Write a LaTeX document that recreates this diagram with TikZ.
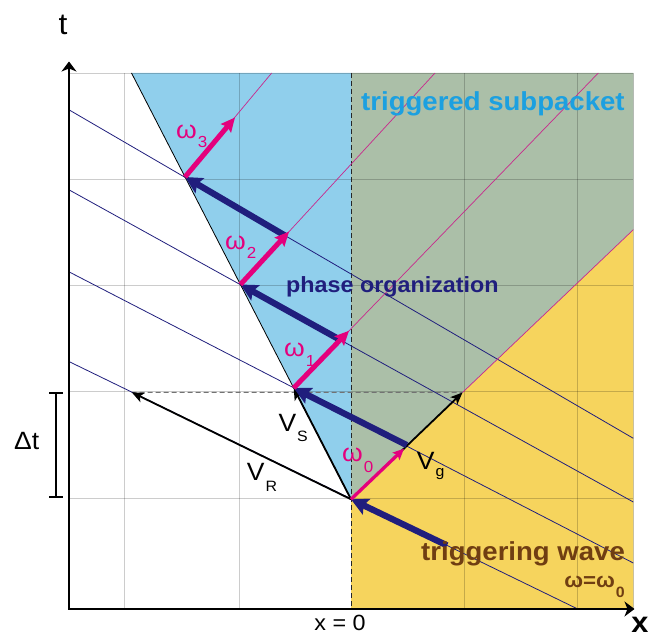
\documentclass[tikz,border=0pt]{standalone}
\usepackage{fontspec}
\setmainfont{Liberation Sans}
\usetikzlibrary{arrows.meta}
\definecolor{cBlue}{RGB}{144,207,236}
\definecolor{cGreen}{RGB}{171,191,168}
\definecolor{cYellow}{RGB}{246,212,93}
\definecolor{cNavy}{RGB}{32,30,125}
\definecolor{cMag}{RGB}{228,0,125}
\definecolor{cMagThin}{RGB}{200,40,140}
\definecolor{cBrown}{RGB}{112,62,18}
\definecolor{cCyan}{RGB}{28,160,224}
\newcommand\fs[1]{\fontsize{#1}{#1}\selectfont}
\newcommand\hsub[3]{{\kern1pt\fs{#1}\raisebox{-#2pt}{#3}}}
\begin{document}
\begin{tikzpicture}[x=1pt,y=-1pt,
  gridline/.style={draw=black,draw opacity=0.2,line width=0.8pt},
  phase/.style={draw=cNavy,line width=0.8pt},
  mthin/.style={draw=cMagThin,line width=0.7pt},
  navyarrow/.style={draw=cNavy,line width=6.3pt,-{Stealth[length=17pt,width=17pt,inset=3pt]}},
  magarrow/.style={draw=cMag,line width=5pt,-{Stealth[length=14pt,width=13pt,inset=2pt]}},
  blackarrow/.style={draw=black,line width=1.8pt,-{Stealth[length=12pt,width=10pt,inset=3pt]}},
  lbl/.style={inner sep=0pt,anchor=base west,xscale=1.06}]
\useasboundingbox (0,0) rectangle (654,636);
% key points
\coordinate (O) at (69,609);
\coordinate (Ytip) at (69,61.5);
\coordinate (Xtip) at (634.5,609);
\coordinate (P0) at (351,499.3);
\coordinate (P1) at (293.7,388);
\coordinate (P2) at (240.4,284.5);
\coordinate (P3) at (185,177);
\coordinate (VsTop) at (131.5,73);
\coordinate (GTip) at (462.5,392.5);
\coordinate (GEnd) at (633.3,229.7);
\coordinate (RTip) at (131.7,392.3);
\coordinate (M1top) at (598.3,73);
\coordinate (M2top) at (435,73);
\coordinate (M3top) at (271.7,73);
\coordinate (A1) at (69.3,110);   \coordinate (A2) at (633.3,438.3);
\coordinate (B1) at (69.3,190);   \coordinate (B2) at (633.3,502);
\coordinate (C1) at (69.3,272);   \coordinate (C2) at (633.3,563);
\coordinate (D1) at (69.3,361.7); \coordinate (D2) at (576.7,608.5);
\coordinate (N0) at (447,545.4);
\coordinate (N1) at (406.7,445.1);
\coordinate (N2) at (340.2,339.9);
\coordinate (N3) at (285.2,235.7);
\coordinate (W0) at (404,448.7);
\coordinate (W1) at (349,330.8);
\coordinate (W2) at (289,231.7);
\coordinate (W3) at (235,117.5);
% fills
\fill[cYellow] (351,609) -- (P0) -- (GEnd) -- (633.3,609) -- cycle;
\fill[cGreen] (P0) -- (GEnd) -- (633.3,73) -- (351,73) -- cycle;
\fill[cBlue] (P0) -- (VsTop) -- (351,73) -- cycle;
% grid
\foreach \gx in {124.3,239,464.3,577.7} \draw[gridline] (\gx,73) -- (\gx,609);
\foreach \gy in {179.3,285,391.5,498} \draw[gridline] (69,\gy) -- (633.3,\gy);
\draw[gridline] (69,73) rectangle (633.3,609);
% dashed guides
\draw[black!85,line width=0.8pt,dash pattern=on 5pt off 3pt] (351,73) -- (351,609);
\draw[black!55,line width=1pt,dash pattern=on 5pt off 3pt] (RTip) -- (GTip);
% phase lines
\draw[phase] (A1) -- (A2);
\draw[phase] (B1) -- (B2);
\draw[phase] (C1) -- (C2);
\draw[phase] (D1) -- (D2);
% group lines
\draw[mthin] (P3) -- (M3top);
\draw[mthin] (P2) -- (M2top);
\draw[mthin] (P1) -- (M1top);
\draw[mthin] (GTip) -- (GEnd);
\draw[black,line width=0.8pt] (P0) -- (VsTop);
% black velocity arrows
\draw[blackarrow] (P0) -- (RTip);
\draw[blackarrow] (P0) -- (P1);
\draw[blackarrow] (P0) -- (GTip);
% navy arrows
\draw[navyarrow] (N0) -- (P0);
\draw[navyarrow] (N1) -- (P1);
\draw[navyarrow] (N2) -- (P2);
\draw[navyarrow] (N3) -- (P3);
% magenta arrows
\draw[magarrow,line width=3.3pt,-{Stealth[length=11pt,width=10pt,inset=2pt]}] (P0) -- (W0);
\draw[magarrow] (P1) -- (W1);
\draw[magarrow] (P2) -- (W2);
\draw[magarrow] (P3) -- (W3);
% bracket
\coordinate (DtT) at (56,392.7);
\coordinate (DtB) at (56,497.3);
\draw[line width=1.8pt] ([xshift=-7pt]DtT) -- ([xshift=7pt]DtT) (DtT) -- (DtB) ([xshift=-7pt]DtB) -- ([xshift=7pt]DtB);
% axes
\draw[line width=2pt,line join=miter,{Stealth[length=10pt,width=15pt,inset=3pt]}-{Stealth[length=10pt,width=15pt,inset=3pt]}] (Ytip) -- (O) -- (Xtip);
% labels
\node[lbl,text=cCyan,font=\fs{26}\bfseries] (lblSub) at (361,111) {triggered subpacket};
\node[lbl,text=cNavy,font=\fs{22}\bfseries] (lblPhase) at (286,293) {phase organization};
\node[lbl,text=cBrown,font=\fs{26}\bfseries] (lblTrig) at (421,560) {triggering wave};
\node[lbl,anchor=base east,text=cBrown,font=\fs{21}\bfseries] (lblOm) at (625,587) {ω=ω\hsub{15}{10}{0}};
\node[lbl,text=cMag,font=\fs{25}] (lblW3) at (176,138.3) {ω\hsub{16}{9}{3}};
\node[lbl,text=cMag,font=\fs{25}] (lblW2) at (225,250) {ω\hsub{16}{9}{2}};
\node[lbl,text=cMag,font=\fs{25}] (lblW1) at (284,356.7) {ω\hsub{16}{10}{1}};
\node[lbl,text=cMag,font=\fs{25}] (lblW0) at (342,461.7) {ω\hsub{16}{11}{0}};
\node[lbl,font=\fs{25}] (lblVs) at (278.3,431.7) {V\hsub{15}{10}{S}};
\node[lbl,font=\fs{25}] (lblVR) at (246.7,480.7) {V\hsub{15}{11}{R}};
\node[lbl,font=\fs{25}] (lblVg) at (416.7,470) {V\hsub{15}{7}{g}};
\node[lbl,font=\fs{25}] (lblDt) at (14,449.5) {Δt};
\node[inner sep=0pt,anchor=base,xscale=1.06,font=\fs{30}] (lblT) at (63,35) {t};
\node[inner sep=0pt,anchor=base,xscale=1.06,font=\fs{29}\bfseries] (lblX) at (640,632) {x};
\node[inner sep=0pt,anchor=base,xscale=1.06,font=\fs{22}] (lblX0) at (340,630) {x = 0};
\end{tikzpicture}
\end{document}
